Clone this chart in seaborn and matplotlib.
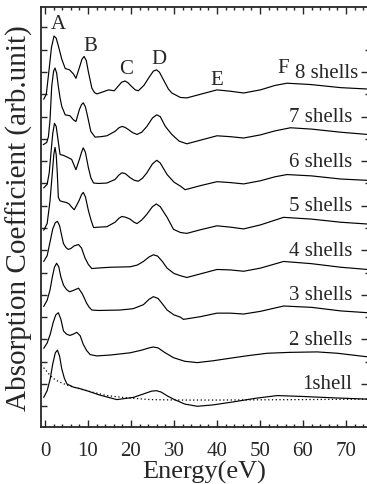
import numpy as np
import pandas as pd
import matplotlib
matplotlib.use("Agg")
import matplotlib.pyplot as plt
from matplotlib.ticker import MultipleLocator, FixedLocator
import seaborn as sns

# Absorption spectra for clusters of 1..8 shells (energy in eV, absorption in arb. units,
# each spectrum stacked on its shell count)
E1 = [-0.3, 0.5, 1.2, 1.8, 2.4, 2.9, 3.4, 3.9, 4.5, 5.1, 6.6, 8.0, 9.7, 12.8, 16.7, 20.6, 23.0,
      24.8, 25.9, 27.0, 28.5, 29.9, 32.5, 35.4, 39.0, 43.9, 49.0, 54.0, 60.0, 67.0, 75.0]
M1 = [-0.30, -0.15, 0.11, 0.45, 0.70, 0.76, 0.62, 0.34, 0.13, 0.0, -0.07, -0.10, -0.15, -0.25,
      -0.35, -0.30, -0.22, -0.16, -0.15, -0.18, -0.27, -0.34, -0.45, -0.50, -0.47, -0.40, -0.32,
      -0.26, -0.28, -0.31, -0.34]

E2 = [-0.3, 0.5, 1.2, 1.9, 2.5, 3.1, 3.7, 4.3, 5.0, 5.8, 6.6, 7.4, 8.2, 8.9, 9.7, 10.5, 12.05,
      15.2, 19.8, 22.5, 24.2, 25.2, 26.3, 27.8, 29.9, 32.5, 35.4, 39.0, 43.9, 47.5, 51.7, 57.0,
      63.3, 68.0, 75.0]
M2 = [-0.20, -0.08, 0.11, 0.38, 0.55, 0.60, 0.45, 0.19, 0.12, 0.09, 0.12, 0.16, 0.08, -0.11,
      -0.25, -0.34, -0.37, -0.35, -0.30, -0.24, -0.19, -0.17, -0.19, -0.29, -0.41, -0.49, -0.52,
      -0.48, -0.41, -0.36, -0.31, -0.29, -0.28, -0.31, -0.39]

E3 = [-0.3, 0.5, 1.17, 1.7, 2.2, 2.7, 3.2, 3.7, 4.3, 5.0, 5.7, 6.6, 7.8, 8.7, 9.7, 10.3, 10.9,
      12.5, 17.5, 20.5, 22.9, 24.2, 25.2, 26.3, 27.3, 28.4, 30.0, 31.5, 32.2, 36.1, 40.0, 43.1,
      46.2, 50.1, 55.5, 62.0, 68.8, 75.0]
M3 = [-0.26, -0.12, 0.11, 0.40, 0.62, 0.71, 0.63, 0.40, 0.22, 0.12, 0.07, 0.10, 0.15, 0.02,
      -0.19, -0.28, -0.34, -0.35, -0.34, -0.31, -0.22, -0.10, -0.04, -0.08, -0.20, -0.34, -0.45,
      -0.50, -0.55, -0.49, -0.41, -0.41, -0.43, -0.37, -0.25, -0.28, -0.36, -0.40]

E4 = [-0.3, 0.5, 1.2, 1.8, 2.4, 2.9, 3.4, 3.9, 4.3, 4.9, 5.4, 6.0, 6.8, 7.8, 8.5, 9.3, 10.1,
      10.9, 12.0, 15.2, 19.8, 21.5, 22.9, 24.2, 25.2, 26.2, 27.3, 28.4, 30.0, 31.5, 33.0, 36.1,
      40.0, 43.1, 46.2, 50.1, 55.5, 62.0, 68.8, 75.0]
M4 = [-0.25, -0.12, 0.20, 0.48, 0.62, 0.65, 0.55, 0.32, 0.15, 0.06, 0.02, 0.04, 0.10, 0.13,
      0.05, -0.17, -0.32, -0.41, -0.40, -0.38, -0.37, -0.33, -0.25, -0.15, -0.10, -0.13, -0.25,
      -0.40, -0.52, -0.57, -0.61, -0.53, -0.43, -0.44, -0.47, -0.40, -0.25, -0.30, -0.38, -0.43]

E5 = [-0.3, 0.5, 1.17, 1.5, 1.75, 2.05, 2.33, 2.6, 2.85, 3.1, 3.5, 4.2, 5.06, 5.6, 6.2, 6.8,
      7.9, 8.5, 8.9, 9.4, 10.1, 10.7, 11.3, 12.5, 14.4, 16.3, 17.2, 17.9, 18.8, 19.8, 20.7, 21.4,
      22.5, 23.7, 25.0, 25.9, 26.8, 28.4, 29.9, 31.5, 33.0, 36.1, 40.0, 43.1, 46.2, 50.1, 55.5,
      62.0, 68.8, 75.0]
M5 = [-0.55, -0.40, 0.11, 0.50, 0.79, 1.15, 1.31, 1.15, 0.75, 0.19, 0.11, 0.09, 0.07, 0.04,
      -0.03, -0.09, 0.11, 0.25, 0.30, 0.20, -0.11, -0.32, -0.49, -0.48, -0.47, -0.37, -0.28,
      -0.24, -0.26, -0.30, -0.37, -0.40, -0.32, -0.19, -0.02, 0.04, -0.02, -0.26, -0.53, -0.60,
      -0.62, -0.54, -0.45, -0.48, -0.52, -0.43, -0.26, -0.30, -0.37, -0.41]

E6 = [-0.3, 0.5, 1.0, 1.4, 1.8, 2.2, 2.6, 3.0, 3.5, 4.3, 5.2, 6.2, 7.2, 8.0, 8.5, 8.9, 9.4,
      10.1, 10.7, 11.3, 12.5, 14.4, 16.3, 17.2, 17.9, 18.7, 19.8, 20.8, 21.7, 22.7, 23.7, 25.0,
      26.0, 26.8, 28.4, 30.0, 31.5, 32.6, 36.1, 40.0, 43.1, 46.2, 50.1, 53.5, 56.3, 62.0, 68.8,
      75.0]
M6 = [-0.60, -0.52, -0.25, 0.20, 0.62, 0.85, 0.78, 0.50, 0.15, 0.13, 0.09, 0.04, -0.19, 0.04,
      0.20, 0.30, 0.20, -0.15, -0.38, -0.49, -0.50, -0.49, -0.41, -0.31, -0.26, -0.28, -0.37,
      -0.43, -0.45, -0.38, -0.26, -0.06, 0.02, -0.04, -0.30, -0.47, -0.56, -0.64, -0.55, -0.46,
      -0.48, -0.51, -0.44, -0.35, -0.30, -0.33, -0.40, -0.43]

E7 = [-0.4, 0.4, 0.8, 1.17, 1.56, 2.0, 2.33, 2.7, 3.1, 3.5, 3.9, 4.7, 5.8, 6.6, 7.2, 8.0, 8.5,
      8.9, 9.4, 9.9, 10.65, 11.65, 13.0, 14.4, 16.3, 17.2, 17.9, 18.6, 19.4, 20.4, 21.4, 22.5,
      23.7, 25.0, 26.0, 26.8, 28.0, 29.5, 31.2, 33.0, 36.1, 40.0, 43.1, 46.2, 50.1, 53.5, 57.1,
      62.0, 68.8, 75.0]
M7 = [-0.63, -0.58, -0.45, -0.07, 0.68, 1.02, 1.09, 0.98, 0.68, 0.42, 0.23, 0.04, 0.02, -0.07,
      -0.11, 0.16, 0.27, 0.31, 0.22, 0.01, -0.33, -0.46, -0.45, -0.43, -0.33, -0.25, -0.22,
      -0.24, -0.29, -0.36, -0.40, -0.35, -0.22, -0.03, 0.04, 0.0, -0.22, -0.40, -0.55, -0.61,
      -0.53, -0.43, -0.45, -0.48, -0.41, -0.32, -0.25, -0.28, -0.35, -0.40]

E8 = [-0.3, 0.3, 1.0, 1.5, 2.1, 2.6, 3.1, 3.9, 4.7, 5.7, 6.6, 7.2, 8.0, 8.6, 9.1, 9.6, 10.1,
      10.9, 11.5, 12.1, 13.6, 14.8, 16.1, 17.0, 17.8, 18.6, 19.3, 20.0, 21.0, 21.7, 23.0, 24.2,
      25.2, 25.9, 26.6, 27.7, 28.7, 29.5, 31.5, 33.0, 36.1, 40.0, 43.1, 46.2, 50.1, 53.5, 56.3,
      61.8, 68.8, 75.0]
M8 = [-0.61, -0.50, 0.10, 0.55, 0.81, 0.76, 0.59, 0.29, 0.08, 0.05, -0.04, -0.14, 0.10, 0.29,
      0.35, 0.26, 0.0, -0.36, -0.46, -0.49, -0.44, -0.40, -0.42, -0.32, -0.23, -0.20, -0.24,
      -0.31, -0.40, -0.42, -0.30, -0.12, 0.02, 0.05, 0.0, -0.20, -0.38, -0.47, -0.57, -0.58,
      -0.50, -0.40, -0.43, -0.47, -0.40, -0.30, -0.25, -0.28, -0.35, -0.38]

# Atomic background (dotted), drawn with the 1-shell spectrum
E_atom = [-0.9, 0.0, 1.2, 2.3, 3.5, 5.0, 6.6, 8.5, 10.5, 14.4, 19.0, 24.5, 31.5, 40.0, 50.0,
          60.0, 75.0]
M_atom = [0.43, 0.33, 0.19, 0.10, 0.04, -0.02, -0.07, -0.12, -0.17, -0.26, -0.31, -0.35, -0.36,
          -0.36, -0.355, -0.35, -0.34]

shells = [1, 2, 3, 4, 5, 6, 7, 8]
shell_labels = ["1shell", "2 shells", "3 shells", "4 shells", "5 shells", "6 shells",
                "7 shells", "8 shells"]
energies = [E1, E2, E3, E4, E5, E6, E7, E8]
spectra = [M1, M2, M3, M4, M5, M6, M7, M8]

feature_names = ["A", "B", "C", "D", "E", "F"]
feature_energy = [3.1, 10.5, 18.8, 26.6, 39.9, 55.4]
feature_level = [9.10, 8.59, 8.07, 8.31, 7.84, 8.11]

x_ticks = [0, 10, 20, 30, 40, 50, 60, 70]

# long table: one row per sample, stacked by shell count
frames = []
for n, e, m in zip(shells, energies, spectra):
    frames.append(pd.DataFrame({"shell": n, "energy": e, "absorption": np.asarray(m) + n}))
df = pd.concat(frames, ignore_index=True)
atom = pd.DataFrame({"energy": E_atom, "absorption": np.asarray(M_atom) + 1})

sns.set_style("ticks")
plt.rcParams["font.family"] = ["Liberation Serif", "DejaVu Serif"]

W, H = 367, 485
fig = plt.figure(figsize=(W / 100, H / 100), dpi=100)
ax = fig.add_axes([41 / W, 1 - 428 / H, (W - 41) / W, (428 - 8) / H])

sns.lineplot(data=df, x="energy", y="absorption", units="shell", estimator=None,
             sort=False, color="black", linewidth=0.85, ax=ax, legend=False)
sns.lineplot(data=atom, x="energy", y="absorption", sort=False, color="black",
             linewidth=0.9, linestyle=(0, (1, 2)), ax=ax, legend=False)

ax.set_xlim(-0.93, 74.9)
ax.set_ylim(0.035, 9.46)

for sp in ["left", "bottom", "top"]:
    ax.spines[sp].set_linewidth(1.3)
ax.spines["right"].set_visible(False)

ax.xaxis.set_major_locator(FixedLocator(x_ticks))
ax.xaxis.set_minor_locator(MultipleLocator(2))
ax.set_xticklabels([str(t) for t in x_ticks])
ax.tick_params(axis="x", which="both", direction="in", top=True, bottom=True,
               labelsize=15, pad=10, width=1.0)
ax.tick_params(axis="x", which="major", length=5)
ax.tick_params(axis="x", which="minor", length=2.5)

ax.yaxis.set_major_locator(MultipleLocator(0.5))
ax.tick_params(axis="y", which="major", direction="in", left=True, right=False,
               labelleft=False, length=4, width=1.0)

# right-hand marks: one per stacked spectrum, short ones in between
axr = ax.twinx()
axr.set_ylim(ax.get_ylim())
for sp in axr.spines.values():
    sp.set_visible(False)
axr.yaxis.set_major_locator(FixedLocator(shells))
axr.yaxis.set_minor_locator(FixedLocator([n + 0.5 for n in shells]))
axr.tick_params(axis="y", which="major", direction="in", length=4, width=1.0, labelright=False)
axr.tick_params(axis="y", which="minor", direction="in", length=1.2, width=1.0)

for n, lab in zip(shells, shell_labels):
    x_end = 72.8 if n == 8 else 71.4
    ax.text(x_end, n, lab, ha="right", va="center", fontsize=15)

for name, e, lvl in zip(feature_names, feature_energy, feature_level):
    ax.text(e, lvl, name, ha="center", va="center", fontsize=15, fontweight="light")

ax.set_xlabel("Energy(eV)", fontsize=19, labelpad=0)
ax.set_ylabel("Absorption Coefficient (arb.unit)", fontsize=21, labelpad=6)

fig.savefig("out.png", dpi=100)
